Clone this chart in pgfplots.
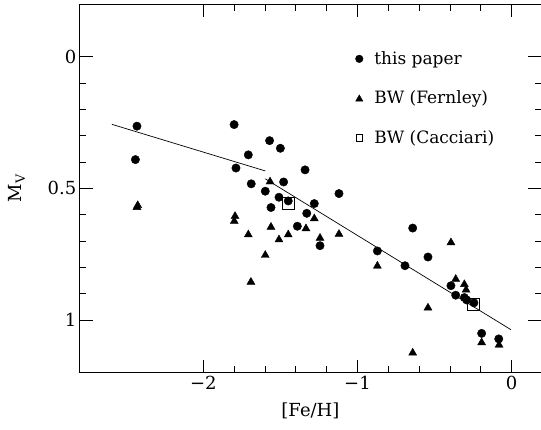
\documentclass[border=0pt]{standalone}
\usepackage{fontspec}
\setmainfont{DejaVu Serif}
\usepackage{pgfplots}
\pgfplotsset{compat=1.18}

\pgfplotstableread{
feh    mv
-2.430 0.264
-2.440 0.391
-1.800 0.258
-1.570 0.319
-1.500 0.348
-1.708 0.373
-1.788 0.423
-1.340 0.430
-1.689 0.483
-1.479 0.476
-1.598 0.511
-1.509 0.534
-1.449 0.548
-1.561 0.573
-1.280 0.558
-1.329 0.595
-1.390 0.644
-1.243 0.718
-1.120 0.520
-0.642 0.651
-0.871 0.738
-0.692 0.794
-0.543 0.761
-0.394 0.870
-0.363 0.906
-0.307 0.915
-0.292 0.924
-0.245 0.935
-0.195 1.051
-0.084 1.072
}\thispaper

\pgfplotstableread{
feh    mv
-2.430 0.572
-2.425 0.565
-1.794 0.606
-1.799 0.625
-1.567 0.475
-1.708 0.676
-1.561 0.647
-1.598 0.754
-1.691 0.856
-1.509 0.695
-1.449 0.676
-1.334 0.653
-1.280 0.615
-1.243 0.689
-1.120 0.674
-0.871 0.795
-0.394 0.706
-0.363 0.845
-0.307 0.865
-0.296 0.886
-0.543 0.954
-0.642 1.125
-0.195 1.086
-0.082 1.095
}\fernley

\pgfplotstableread{
feh    mv
-1.449 0.559
-0.246 0.940
}\cacciari

\begin{document}
\begin{tikzpicture}
\useasboundingbox (-79.9pt,-57.3pt) rectangle (461.1pt,372.6pt);
\begin{axis}[
  scale only axis,
  width=461.1pt, height=368.6pt,
  xmin=-2.8, xmax=0.19,
  ymin=-0.2, ymax=1.2,
  y dir=reverse,
  xtick={-2,-1,0}, xticklabels={−2,−1,0},
  ytick={0,0.5,1}, yticklabels={0,0.5,1},
  minor x tick num=4, minor y tick num=4,
  tick align=inside,
  major tick length=13pt, minor tick length=6.5pt,
  every tick/.style={black, line width=0.8pt},
  axis line style={line width=0.8pt},
  tick label style={font=\fontsize{18}{21}\selectfont},
  xlabel={[Fe/H]}, ylabel={M\textsubscript{V}},
  label style={font=\fontsize{18}{21}\selectfont},
  xlabel shift=6pt, ylabel shift=16pt,
  legend style={draw=none, fill=none, at={(axis cs:-1.035,-0.035)}, anchor=north west,
    font=\fontsize{17}{20}\selectfont, row sep=21pt,
    nodes={inner sep=2pt}},
  legend cell align=left,
]
\addplot[only marks, mark=*, mark size=4.2pt, black,
  legend image code/.code={\fill[black] (0pt,0pt) circle (3.8pt);\path[draw=none,fill=none] (0pt,0pt) -- (13pt,0pt);}]
  table[x=feh,y=mv] {\thispaper};
\addlegendentry{this paper}
\addplot[only marks, mark=triangle*, mark size=4.6pt, black,
  legend image code/.code={\draw[black, mark size=4.2pt] plot[mark=triangle*] coordinates {(0pt,-0.8pt)};\path[draw=none,fill=none] (0pt,0pt) -- (13pt,0pt);}]
  table[x=feh,y=mv] {\fernley};
\addlegendentry{BW (Fernley)}
\addplot[only marks, mark=square, mark size=6pt, black, line width=0.7pt,
  legend image code/.code={\draw[black, line width=0.6pt] (-3.3pt,-3.3pt) rectangle (3.3pt,3.3pt);\path[draw=none,fill=none] (0pt,0pt) -- (13pt,0pt);}]
  table[x=feh,y=mv] {\cacciari};
\addlegendentry{BW (Cacciari)}
\addplot[black, line width=0.7pt, forget plot] coordinates {(-2.593,0.257) (-1.598,0.434)};
\addplot[black, line width=0.7pt, forget plot] coordinates {(-1.598,0.464) (-0.005,1.037)};
\end{axis}
\end{tikzpicture}
\end{document}
